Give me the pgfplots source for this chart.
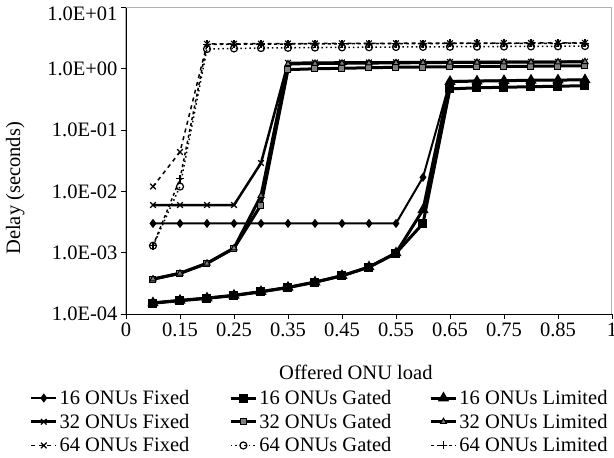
\documentclass[border=0pt]{standalone}
\usepackage{pgfplots}
\pgfplotsset{compat=1.18}
\usepackage{fontspec}
\setmainfont{Liberation Serif}
\newcommand{\chartfont}{\fontsize{20.5}{23}\selectfont}
\begin{document}
\begin{tikzpicture}
\begin{axis}[
    scale only axis,
    width=486pt, height=306.5pt,
    xmin=0.05, xmax=0.95,
    ymode=log, ymin=1e-4, ymax=10,
    axis lines=left,
    axis line style={-, black, line width=0.9pt},
    axis background/.style={draw=gray!60, line width=1pt},
    tick align=outside, major tick length=5pt,
    tick style={black, line width=0.8pt},
    yminorticks=false,
    xtick={0.05,0.15,0.25,0.35,0.45,0.55,0.65,0.75,0.85,0.95},
    xticklabels={0,0.15,0.25,0.35,0.45,0.55,0.65,0.75,0.85,1},
    ytick={1e-4,1e-3,1e-2,1e-1,1},
    yticklabels={1.0E-04,1.0E-03,1.0E-02,1.0E-01,1.0E+00},
    extra y ticks={10},
    extra y tick labels={1.0E+01},
    extra y tick style={yticklabel style={yshift=-6pt}},
    tick label style={font=\chartfont},
    /pgf/number format/assume math mode=true,
    xlabel={Offered ONU load},
    ylabel={Delay (seconds)},
    label style={font=\chartfont},
    ylabel style={at={(axis description cs:-0.228,0.41)}, anchor=center},
    xlabel style={at={(axis description cs:0.473,-0.192)}, anchor=center},
    legend columns=3,
    legend style={draw=none, fill=none, font=\chartfont,
        at={(axis description cs:-0.204,-0.238)}, anchor=north west,
        row sep=6pt, nodes={inner ysep=1pt},
        /tikz/column 2/.append style={column sep=38pt},
        /tikz/column 4/.append style={column sep=36pt}},
    legend image code/.code={\draw[mark repeat=2, mark phase=2]
        plot coordinates {(0pt,0pt) (12.5pt,0pt) (25pt,0pt)};},
]
% 16 ONUs
\addplot[black, line width=2pt, mark=diamond*, mark size=3pt] coordinates {
 (0.1,0.003) (0.15,0.003) (0.2,0.003) (0.25,0.003) (0.3,0.003) (0.35,0.003)
 (0.4,0.003) (0.45,0.003) (0.5,0.003) (0.55,0.003) (0.6,0.017) (0.65,0.63)
 (0.7,0.64) (0.75,0.645) (0.8,0.65) (0.85,0.655) (0.9,0.66)};
\addlegendentry{16 ONUs Fixed}
\addplot[black, line width=3pt, mark=square*, mark size=3pt] coordinates {
 (0.1,1.5e-4) (0.15,1.65e-4) (0.2,1.8e-4) (0.25,2.0e-4) (0.3,2.3e-4) (0.35,2.7e-4)
 (0.4,3.3e-4) (0.45,4.2e-4) (0.5,5.8e-4) (0.55,9.8e-4) (0.6,3.0e-3) (0.65,0.47)
 (0.7,0.49) (0.75,0.5) (0.8,0.51) (0.85,0.52) (0.9,0.53)};
\addlegendentry{16 ONUs Gated}
\addplot[black, line width=3pt, mark=triangle*, mark size=3.5pt] coordinates {
 (0.1,1.52e-4) (0.15,1.67e-4) (0.2,1.82e-4) (0.25,2.02e-4) (0.3,2.32e-4) (0.35,2.72e-4)
 (0.4,3.32e-4) (0.45,4.22e-4) (0.5,5.85e-4) (0.55,9.9e-4) (0.6,5.0e-3) (0.65,0.62)
 (0.7,0.63) (0.75,0.64) (0.8,0.65) (0.85,0.655) (0.9,0.66)};
\addlegendentry{16 ONUs Limited}
% 32 ONUs
\addplot[black, line width=2.5pt, mark=x, mark size=4pt, mark options={line width=1.2pt}] coordinates {
 (0.1,0.006) (0.15,0.006) (0.2,0.006) (0.25,0.006) (0.3,0.029) (0.35,1.25)
 (0.4,1.26) (0.45,1.27) (0.5,1.27) (0.55,1.28) (0.6,1.28) (0.65,1.29)
 (0.7,1.29) (0.75,1.3) (0.8,1.3) (0.85,1.3) (0.9,1.31)};
\addlegendentry{32 ONUs Fixed}
\addplot[black, line width=3pt, mark=square*, mark size=3pt, mark options={fill=gray, line width=1pt}] coordinates {
 (0.1,3.7e-4) (0.15,4.6e-4) (0.2,6.7e-4) (0.25,1.18e-3) (0.3,6.0e-3) (0.35,0.97)
 (0.4,1.0) (0.45,1.02) (0.5,1.04) (0.55,1.06) (0.6,1.07) (0.65,1.08)
 (0.7,1.09) (0.75,1.1) (0.8,1.1) (0.85,1.11) (0.9,1.12)};
\addlegendentry{32 ONUs Gated}
\addplot[black, line width=3pt, mark=triangle*, mark size=3.5pt, mark options={fill=gray, line width=1pt}] coordinates {
 (0.1,3.72e-4) (0.15,4.62e-4) (0.2,6.72e-4) (0.25,1.19e-3) (0.3,8.5e-3) (0.35,1.2)
 (0.4,1.22) (0.45,1.23) (0.5,1.24) (0.55,1.25) (0.6,1.26) (0.65,1.27)
 (0.7,1.27) (0.75,1.28) (0.8,1.28) (0.85,1.29) (0.9,1.3)};
\addlegendentry{32 ONUs Limited}
% 64 ONUs
\addplot[black, line width=1.5pt, dash pattern=on 4pt off 4pt, mark=x, mark size=4pt, mark options={solid, line width=1.2pt}] coordinates {
 (0.1,0.012) (0.15,0.044) (0.2,2.55) (0.25,2.56) (0.3,2.57) (0.35,2.58)
 (0.4,2.59) (0.45,2.6) (0.5,2.6) (0.55,2.61) (0.6,2.62) (0.65,2.62)
 (0.7,2.63) (0.75,2.63) (0.8,2.64) (0.85,2.64) (0.9,2.65)};
\addlegendentry{64 ONUs Fixed}
\addplot[black, line width=1.5pt, dash pattern=on 1.5pt off 3pt, mark=o, mark size=3.5pt, mark options={solid, line width=1.2pt, fill=white}] coordinates {
 (0.1,1.3e-3) (0.15,0.012) (0.2,2.1) (0.25,2.15) (0.3,2.18) (0.35,2.2)
 (0.4,2.22) (0.45,2.24) (0.5,2.25) (0.55,2.27) (0.6,2.28) (0.65,2.29)
 (0.7,2.3) (0.75,2.31) (0.8,2.32) (0.85,2.33) (0.9,2.35)};
\addlegendentry{64 ONUs Gated}
\addplot[black, line width=1.5pt, dash pattern=on 3pt off 3pt, mark=+, mark size=4pt, mark options={solid, line width=1.2pt}] coordinates {
 (0.1,1.3e-3) (0.15,0.016) (0.2,2.5) (0.25,2.52) (0.3,2.53) (0.35,2.54)
 (0.4,2.55) (0.45,2.56) (0.5,2.57) (0.55,2.58) (0.6,2.58) (0.65,2.59)
 (0.7,2.59) (0.75,2.6) (0.8,2.6) (0.85,2.61) (0.9,2.62)};
\addlegendentry{64 ONUs Limited}
\end{axis}
\pgfresetboundingbox
\path (-126pt,-144pt) rectangle (488pt,314pt);
\end{tikzpicture}
\end{document}
